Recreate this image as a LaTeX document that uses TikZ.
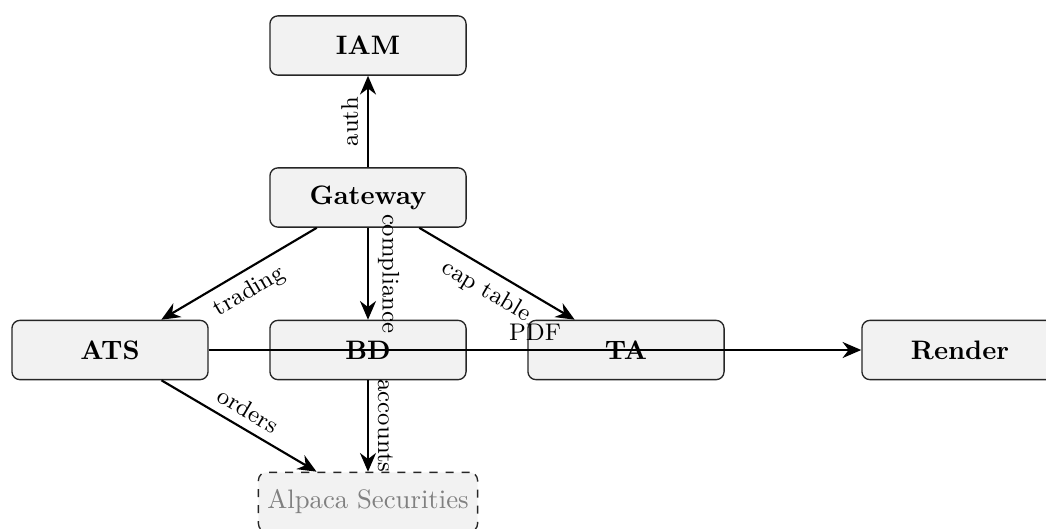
\documentclass[tikz,border=0pt]{standalone}
\usetikzlibrary{arrows.meta}
\begin{document}
\begin{tikzpicture}[x=0.013158cm, y=-0.013158cm,
  box/.style={draw=black!85, line width=0.5pt, rounded corners=3pt, fill=black!5,
    minimum width=2.58cm, minimum height=0.78cm, font=\bfseries},
  extbox/.style={draw=black!85, line width=0.5pt, dashed, rounded corners=3pt, fill=black!5,
    minimum height=0.78cm, text=black!50},
  conn/.style={-{Stealth[length=7pt,width=6pt]}, line width=0.8pt},
  lbl/.style={font=\small, midway, sloped}]
\useasboundingbox (0,0) rectangle (1046,528);
\node[box] (iam) at (368,45.5) {IAM};
\node[box] (gw) at (368,197.5) {Gateway};
\node[box] (ats) at (110,350) {ATS};
\node[box] (bd) at (368,350) {BD};
\node[box] (ta) at (626,350) {TA};
\node[box] (render) at (960,350) {Render};
\node[extbox] (alp) at (368,502) {Alpaca Securities};
\draw[conn] (gw) -- node[lbl, above] {auth} (iam);
\draw[conn] (gw) -- node[lbl, below] {trading} (ats);
\draw[conn] (gw) -- node[lbl, above] {compliance} (bd);
\draw[conn] (gw) -- node[lbl, below] {cap table} (ta);
\draw[conn] (ats) -- node[lbl, above] {PDF} (render);
\draw[conn] (ats) -- node[lbl, above] {orders} (alp);
\draw[conn] (bd) -- node[lbl, above] {accounts} (alp);
\end{tikzpicture}
\end{document}
